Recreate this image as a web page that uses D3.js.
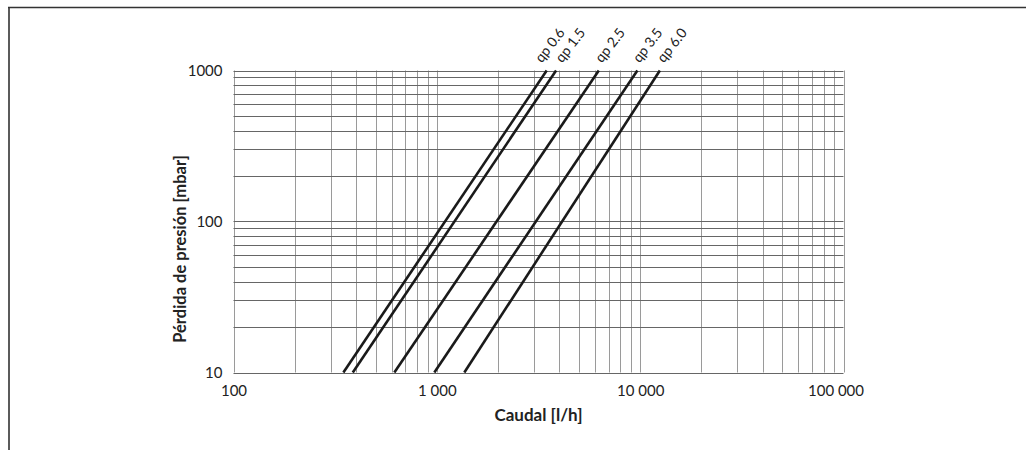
<!DOCTYPE html>
<html><head><meta charset="utf-8">
<script src="https://cdn.jsdelivr.net/npm/d3@7"></script>
<style>body{margin:0;background:#fff}svg{display:block}text{font-family:Lato,"Open Sans",sans-serif;fill:#222}</style>
</head><body>
<svg id="c" width="1026" height="450"></svg>
<script>
// Series: qp labels, flow (l/h) at 10 mbar and at 1000 mbar
const seriesNames = ["qp 0.6", "qp 1.5", "qp 2.5", "qp 3.5", "qp 6.0"];
const flowAt10 = [347, 386, 618, 972, 1365];
const flowAt1000 = [3470, 3860, 6260, 9690, 12500];
const pressureEnds = [10, 1000];
const xTickValues = [100, 1000, 10000, 100000];
const xTickLabels = ["100", "1 000", "10 000", "100 000"];
const yTickValues = [10, 100, 1000];
const yTickLabels = ["10", "100", "1000"];

const svg = d3.select("#c");
const L = 233.5, R = 843.5, T = 70.5, B = 372.5;
const x = d3.scaleLog().domain([100, 100000]).range([L, R]);
const y = d3.scaleLog().domain([10, 1000]).range([B, T]);

// outer frame
svg.append("path").attr("d", `M8,7.5H1026M9,7V450`).attr("stroke", "#333").attr("stroke-width", 1.6).attr("fill", "none");

// grid
const xMinor = [];
for (let d = 100; d < 100000; d *= 10) for (let k = 1; k <= 9; k++) xMinor.push(d * k);
xMinor.push(100000);
const yMinor = [];
for (let d = 10; d < 1000; d *= 10) for (let k = 1; k <= 9; k++) yMinor.push(d * k);
yMinor.push(1000);

const g = svg.append("g");
g.selectAll("line.v").data(xMinor).join("line")
  .attr("x1", d => Math.round(x(d)) + 0.5).attr("x2", d => Math.round(x(d)) + 0.5)
  .attr("y1", T).attr("y2", B).attr("stroke", "#9a9a9a").attr("stroke-width", 1);
g.selectAll("line.h").data(yMinor).join("line")
  .attr("y1", d => Math.round(y(d)) + 0.5).attr("y2", d => Math.round(y(d)) + 0.5)
  .attr("x1", L).attr("x2", R).attr("stroke", "#666").attr("stroke-width", 1);

// axes (tick labels only)
const xAxis = d3.axisBottom(x).tickValues(xTickValues).tickFormat((d, i) => xTickLabels[i]).tickSize(0).tickPadding(13);
const ax = svg.append("g").attr("transform", `translate(0,${B})`).call(xAxis);
ax.select(".domain").remove();
ax.selectAll("text").attr("font-size", 15).attr("fill", "#222").style("font-family", "Lato, sans-serif");
ax.selectAll(".tick").filter(d => d === 100000).select("text").attr("dx", -8);

const yAxis = d3.axisLeft(y).tickValues(yTickValues).tickFormat((d, i) => yTickLabels[i]).tickSize(0).tickPadding(11);
const ay = svg.append("g").attr("transform", `translate(${L},0)`).call(yAxis);
ay.select(".domain").remove();
ay.selectAll("text").attr("font-size", 15).attr("fill", "#222").style("font-family", "Lato, sans-serif");

// series lines
const labelShift = [-5, 6, 3, 2, 4];
const line = d3.line().x(d => x(d[0])).y(d => y(d[1]));
seriesNames.forEach((name, i) => {
  const pts = [[flowAt10[i], pressureEnds[0]], [flowAt1000[i], pressureEnds[1]]];
  svg.append("path").attr("d", line(pts)).attr("stroke", "#1a1a1a").attr("stroke-width", 2.6).attr("fill", "none");
  const x2 = x(flowAt1000[i]), y2 = y(pressureEnds[1]);
  svg.append("text").attr("transform", `translate(${x2 + labelShift[i]},${y2 - 7}) rotate(-52)`)
    .attr("font-size", 14).attr("fill", "#222").text(name);
});

// titles
svg.append("text").attr("x", (L + R) / 2).attr("y", 421).attr("text-anchor", "middle")
  .attr("font-size", 17).attr("font-weight", "bold").text("Caudal [l/h]");
svg.append("text").attr("transform", `translate(186,249) rotate(-90)`).attr("text-anchor", "middle")
  .attr("font-size", 16.5).attr("font-weight", "bold").text("Pérdida de presión [mbar]");
</script>
</body></html>
